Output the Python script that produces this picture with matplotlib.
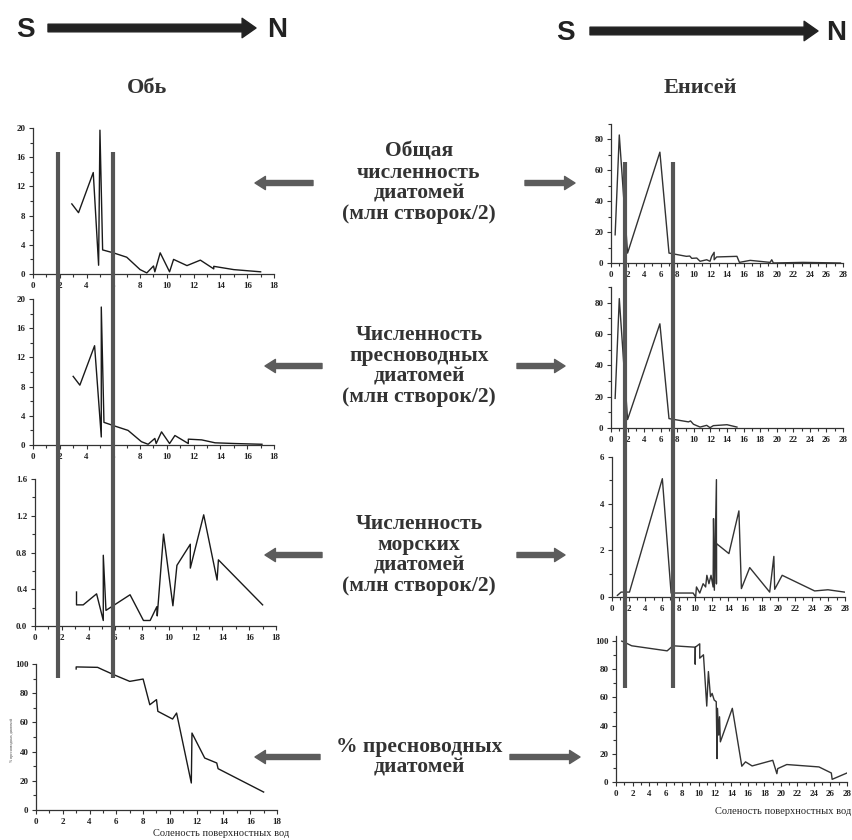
"""
Диатомеи Оби и Енисея по солёности поверхностных вод
"""
import matplotlib.pyplot as plt
import matplotlib.transforms as mtransforms
from matplotlib.lines import Line2D
from matplotlib.patches import FancyArrowPatch, ArrowStyle
from matplotlib.ticker import MultipleLocator

W, H = 853, 840

# ---- Обь ----
ob_total_x = [2.9, 3.4, 4.5, 4.9, 5.0, 5.2, 6.0, 7.0, 8.0, 8.5, 9.0, 9.1, 9.5, 10.2, 10.5, 11.5, 12.5, 13.5, 13.5, 15.0, 17.0]
ob_total_y = [9.6, 8.4, 13.9, 1.2, 19.7, 3.3, 2.9, 2.3, 0.6, 0.15, 1.1, 0.3, 2.9, 0.3, 2.0, 1.15, 1.9, 0.7, 1.05, 0.6, 0.3]

ob_fresh_x = [3.0, 3.5, 4.6, 5.1, 5.1, 5.3, 6.1, 7.1, 8.1, 8.6, 9.1, 9.2, 9.6, 10.2, 10.6, 11.6, 11.6, 12.6, 13.6, 15.1, 17.1]
ob_fresh_y = [9.4, 8.2, 13.6, 1.1, 18.9, 3.1, 2.6, 2.0, 0.45, 0.1, 0.9, 0.2, 1.8, 0.2, 1.3, 0.2, 0.8, 0.7, 0.3, 0.2, 0.1]

ob_marine_x = [3.1, 3.1, 3.6, 4.6, 5.1, 5.1, 5.3, 7.1, 8.1, 8.6, 9.1, 9.13, 9.6, 10.3, 10.6, 11.6, 11.6, 12.6, 13.6, 13.7, 17.0]
ob_marine_y = [0.37, 0.23, 0.23, 0.35, 0.06, 0.77, 0.17, 0.34, 0.06, 0.06, 0.21, 0.11, 1.0, 0.22, 0.66, 0.89, 0.63, 1.21, 0.5, 0.72, 0.23]

ob_pct_x = [3.0, 3.0, 4.6, 5.0, 5.8, 7.0, 8.0, 8.5, 9.0, 9.1, 10.2, 10.5, 11.6, 11.65, 12.6, 13.5, 13.6, 17.0]
ob_pct_y = [96.6, 98.0, 97.7, 96.0, 92.7, 88.1, 89.7, 72.1, 75.6, 67.6, 62.3, 66.4, 18.5, 52.7, 35.6, 32.2, 28.3, 12.3]

# ---- Енисей ----
ye_total_x = [0.5, 1.0, 2.0, 5.9, 7.0, 9.1, 9.5, 9.75, 10.35, 10.75, 11.55, 11.95, 12.15, 12.45, 12.45, 12.75, 15.2, 15.5, 16.8, 19.2, 19.4, 19.6, 23.2, 27.7]
ye_total_y = [18.2, 82.6, 6.4, 71.5, 6.4, 4.3, 4.5, 3.0, 3.2, 1.1, 2.1, 1.1, 4.3, 6.9, 2.1, 3.9, 4.3, 0.4, 1.7, 0.4, 2.1, 0.0, 0.4, 0.0]

ye_fresh_x = [0.5, 1.0, 2.0, 5.9, 7.0, 9.35, 9.6, 9.95, 10.75, 11.55, 11.95, 12.35, 14.0, 15.2]
ye_fresh_y = [18.9, 82.6, 5.4, 66.5, 6.0, 3.9, 4.5, 2.4, 0.6, 1.7, 0.2, 1.5, 2.1, 0.6]

ye_marine_x = [0.65, 1.1, 2.1, 6.05, 7.1, 9.75, 10.05, 10.15, 10.55, 10.95, 11.25, 11.4, 11.65, 11.9, 12.15, 12.2, 12.3, 12.55, 12.55, 12.55,
               14.05, 15.25, 15.55, 16.55, 18.95, 19.45, 19.55, 20.45, 24.35, 25.95, 27.95]
ye_marine_y = [0.07, 0.21, 0.21, 5.07, 0.17, 0.17, 0.0, 0.43, 0.17, 0.57, 0.43, 0.93, 0.57, 0.93, 0.43, 3.36, 0.29, 5.03, 0.57, 2.29,
               1.86, 3.69, 0.36, 1.26, 0.21, 1.74, 0.33, 0.93, 0.26, 0.31, 0.21]

ye_pct_x = [0.7, 1.1, 1.9, 6.2, 6.9, 9.6, 9.6, 9.62, 10.15, 10.15, 10.6, 11.0, 11.2, 11.45, 11.65, 11.9, 12.15, 12.25, 12.3, 12.45, 12.55, 12.65,
            14.1, 15.25, 15.7, 16.5, 19.0, 19.5, 19.6, 20.7, 24.6, 26.1, 26.2, 28.0]
ye_pct_y = [100.0, 99.0, 96.7, 93.1, 96.7, 95.7, 83.6, 95.7, 98.1, 87.9, 90.3, 53.9, 78.4, 60.6, 62.9, 58.2, 57.0, 16.6, 52.3, 33.3, 46.3, 28.5,
            52.3, 11.2, 14.3, 11.4, 15.4, 5.9, 9.5, 12.4, 10.7, 6.4, 1.9, 6.4]

# положения вертикальных полос (солёность)
ob_bars = [1.9, 6.0]
ye_bars = [1.7, 7.5]

mid_labels = ["Общая\nчисленность\nдиатомей\n(млн створок/2)",
              "Численность\nпресноводных\nдиатомей\n(млн створок/2)",
              "Численность\nморских\nдиатомей\n(млн створок/2)",
              "% пресноводных\nдиатомей"]
xlabel = "Соленость поверхностных вод"

SERIF = ['Liberation Serif', 'DejaVu Serif']
plt.rcParams['font.family'] = SERIF
plt.rcParams['font.weight'] = 'bold'

fig = plt.figure(figsize=(W / 100, H / 100), dpi=100)


def fx(x):
    return x / W


def fy(y):
    return 1 - y / H


def panel(l, t, r, b, x, y, xmax, ymax, ymaj, ymin, color, yticks=None):
    ax = fig.add_axes([fx(l), fy(b), fx(r) - fx(l), fy(t) - fy(b)])
    ax.plot(x, y, color=color, lw=1.0)
    ax.set_xlim(0, xmax)
    ax.set_ylim(0, ymax)
    ax.xaxis.set_major_locator(MultipleLocator(2))
    ax.xaxis.set_minor_locator(MultipleLocator(1))
    if yticks is None:
        ax.yaxis.set_major_locator(MultipleLocator(ymaj))
    else:
        ax.set_yticks(yticks)
    ax.yaxis.set_minor_locator(MultipleLocator(ymin))
    for s in ['top', 'right']:
        ax.spines[s].set_visible(False)
    for s in ['left', 'bottom']:
        ax.spines[s].set_linewidth(0.9)
        ax.spines[s].set_color('#333333')
    ax.tick_params(which='major', length=3, width=0.8, color='#333333', pad=2.5,
                   labelsize=6.5, labelcolor='#222222')
    ax.tick_params(which='minor', length=2.5, width=0.8, color='#333333')
    ax.set_facecolor('none')
    return ax


ob_axes = [
    panel(33, 128, 274, 274, ob_total_x, ob_total_y, 18, 20, 4, 2, '#1a1a1a'),
    panel(33, 299, 274, 445, ob_fresh_x, ob_fresh_y, 18, 20, 4, 2, '#1a1a1a'),
    panel(35, 479, 276, 626, ob_marine_x, ob_marine_y, 18, 1.6, 0.4, 0.2, '#1a1a1a'),
    panel(36, 664, 277, 810, ob_pct_x, ob_pct_y, 18, 100, 20, 10, '#1a1a1a'),
]
ye_axes = [
    panel(611, 123.5, 843, 263, ye_total_x, ye_total_y, 28, 90, 20, 10, '#333333'),
    panel(611, 287, 843, 428, ye_fresh_x, ye_fresh_y, 28, 90, 20, 10, '#333333'),
    panel(612, 457, 845, 597, ye_marine_x, ye_marine_y, 28, 6, 2, 1, '#333333'),
    panel(616, 635.5, 847, 782, ye_pct_x, ye_pct_y, 28, 104, 20, 10, '#333333',
          yticks=[0, 20, 40, 60, 80, 100]),
]

# вертикальные полосы через все панели
for ax, bars, top, bot in [(ob_axes[0], ob_bars, 152, 678), (ye_axes[0], ye_bars, 162, 688)]:
    tr = mtransforms.blended_transform_factory(ax.transData, fig.transFigure)
    for bx in bars:
        fig.add_artist(Line2D([bx, bx], [fy(top), fy(bot)], transform=tr,
                              color='#555555', lw=3.0, solid_capstyle='butt'))

# подписи осей
fig.text(fx(153), fy(834), xlabel, fontsize=7.5, fontweight='normal', ha='left', va='center', color='#222222')
fig.text(fx(851), fy(812), xlabel, fontsize=7.5, fontweight='normal', ha='right', va='center', color='#222222')
fig.text(fx(12), fy(740), "% пресноводных диатомей", fontsize=2.8, fontweight='normal', rotation=90,
         ha='center', va='center', color='#444444')

# заголовки
fig.text(fx(147), fy(88), "Обь", fontsize=16, ha='center', va='center', color='#333333')
fig.text(fx(700), fy(88), "Енисей", fontsize=16, ha='center', va='center', color='#333333')

NARROW = ['Liberation Sans Narrow', 'Liberation Sans', 'DejaVu Sans']
big_arrow = ArrowStyle.Simple(head_length=1.0, head_width=1.4, tail_width=0.55)
for sx, ax0, ax1, nx, yy in [(25, 48, 256, 277, 30), (565, 590, 818, 836, 33)]:
    fig.text(fx(sx), fy(yy), "S", fontsize=20, family=NARROW,
             ha='center', va='center', color='#222222')
    fig.text(fx(nx), fy(yy), "N", fontsize=20, family=NARROW,
             ha='center', va='center', color='#222222')
    fig.add_artist(FancyArrowPatch((fx(ax0), fy(yy - 2)), (fx(ax1), fy(yy - 2)),
                                   transform=fig.transFigure, arrowstyle=big_arrow,
                                   mutation_scale=10, color='#222222', shrinkA=0, shrinkB=0))

# средние подписи и стрелки
small_arrow = ArrowStyle.Simple(head_length=0.75, head_width=0.95, tail_width=0.36)
mid_y = [183, 366, 555, 757]
arrows = [((313, 255), (525, 575)), ((322, 265), (517, 565)),
          ((322, 265), (517, 565)), ((320, 255), (510, 580))]
for lab, yy, (la, ra) in zip(mid_labels, mid_y, arrows):
    fig.text(fx(419), fy(yy), lab, fontsize=15.5, ha='center', va='center',
             color='#333333', linespacing=1.05)
    for a0, a1 in (la, ra):
        fig.add_artist(FancyArrowPatch((fx(a0), fy(yy)), (fx(a1), fy(yy)),
                                       transform=fig.transFigure, arrowstyle=small_arrow,
                                       mutation_scale=10, color='#5c5c5c', shrinkA=0, shrinkB=0))

fig.savefig("out.png", dpi=100)
